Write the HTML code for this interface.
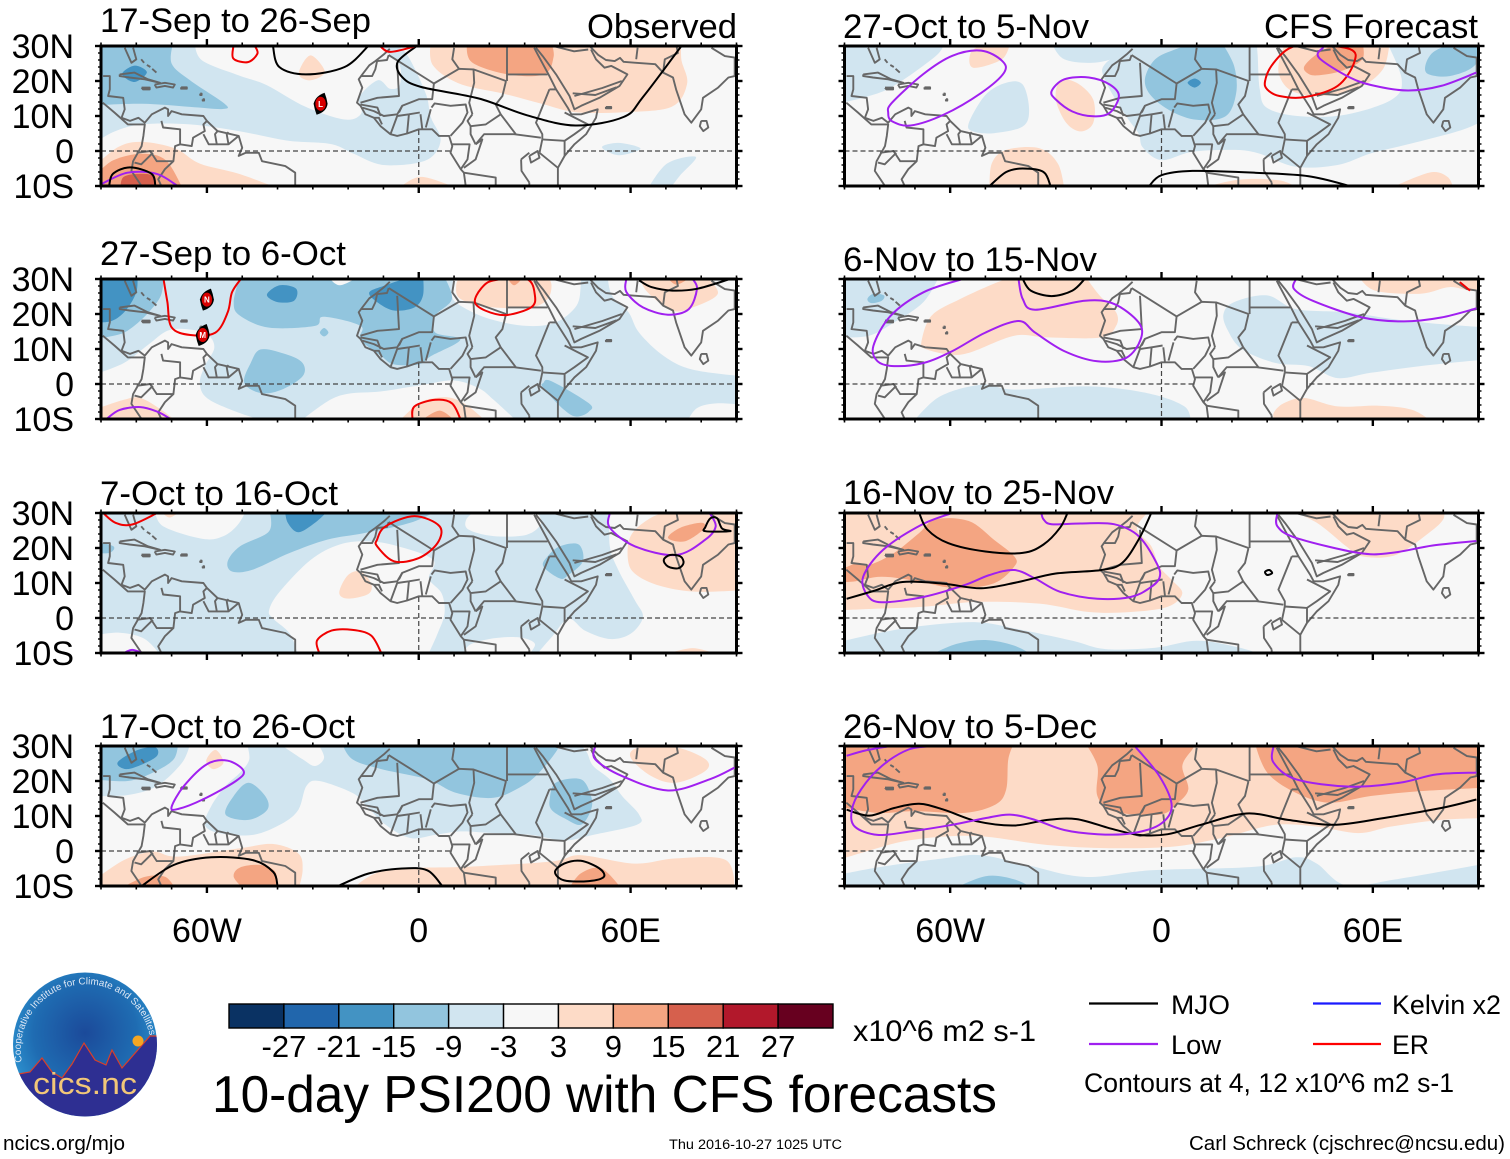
<!DOCTYPE html>
<html lang="en">
<head>
<meta charset="utf-8">
<title>10-day PSI200 with CFS forecasts</title>
<style>
html,body{margin:0;padding:0;background:#fff;}
svg{display:block;}
text{font-family:"Liberation Sans",sans-serif;fill:#000;}
</style>
</head>
<body>
<svg id="chart" xmlns="http://www.w3.org/2000/svg" width="1510" height="1159" viewBox="0 0 1510 1159">
  <rect x="0" y="0" width="1510" height="1159" fill="#fff"/>
  <defs id="chart-defs">
    <radialGradient id="logoGrad" cx="50%" cy="42%" r="60%">
      <stop offset="0" stop-color="#1b4a9a"/>
      <stop offset="0.6" stop-color="#1f6cb2"/>
      <stop offset="1" stop-color="#2f9ad6"/>
    </radialGradient>
    <path id="logoArc" d="M 22 1062 A 65 65 0 1 1 150 1037"/>
    <clipPath id="logoClip"><circle cx="85" cy="1044.5" r="72"/></clipPath>
  </defs>
  <g id="plots"></g>

  <g id="static-text">
    <text x="100" y="32" font-size="34" textLength="271" lengthAdjust="spacingAndGlyphs">17-Sep to 26-Sep</text>
    <text x="100" y="265" font-size="34" textLength="246" lengthAdjust="spacingAndGlyphs">27-Sep to 6-Oct</text>
    <text x="100" y="505" font-size="34" textLength="238" lengthAdjust="spacingAndGlyphs">7-Oct to 16-Oct</text>
    <text x="100" y="738" font-size="34" textLength="255" lengthAdjust="spacingAndGlyphs">17-Oct to 26-Oct</text>
    <text x="843" y="38" font-size="34" textLength="246" lengthAdjust="spacingAndGlyphs">27-Oct to 5-Nov</text>
    <text x="843" y="271" font-size="34" textLength="254" lengthAdjust="spacingAndGlyphs">6-Nov to 15-Nov</text>
    <text x="843" y="504" font-size="34" textLength="271" lengthAdjust="spacingAndGlyphs">16-Nov to 25-Nov</text>
    <text x="843" y="738" font-size="34" textLength="254" lengthAdjust="spacingAndGlyphs">26-Nov to 5-Dec</text>
    <text x="587" y="38" font-size="34" textLength="150" lengthAdjust="spacingAndGlyphs">Observed</text>
    <text x="1264" y="38" font-size="34" textLength="214" lengthAdjust="spacingAndGlyphs">CFS Forecast</text>
  </g>

  <g id="colorbar"></g>
  <text x="853" y="1041" font-size="30" textLength="183" lengthAdjust="spacingAndGlyphs">x10^6 m2 s-1</text>
  <text x="212" y="1112" font-size="52" textLength="785" lengthAdjust="spacingAndGlyphs">10-day PSI200 with CFS forecasts</text>

  <g>
    <line x1="1089" y1="1003.5" x2="1158" y2="1003.5" stroke="#000" stroke-width="2.2"/>
    <text x="1171" y="1014" font-size="27" textLength="59" lengthAdjust="spacingAndGlyphs">MJO</text>
    <line x1="1313" y1="1003.5" x2="1381" y2="1003.5" stroke="#1a1aff" stroke-width="2.2"/>
    <text x="1392" y="1014" font-size="27" textLength="109" lengthAdjust="spacingAndGlyphs">Kelvin x2</text>
    <line x1="1089" y1="1044" x2="1158" y2="1044" stroke="#a020f0" stroke-width="2.2"/>
    <text x="1171" y="1054" font-size="27" textLength="50" lengthAdjust="spacingAndGlyphs">Low</text>
    <line x1="1313" y1="1044" x2="1381" y2="1044" stroke="#f00" stroke-width="2.2"/>
    <text x="1392" y="1054" font-size="27" textLength="37" lengthAdjust="spacingAndGlyphs">ER</text>
    <text x="1084" y="1092" font-size="27" textLength="370" lengthAdjust="spacingAndGlyphs">Contours at 4, 12 x10^6 m2 s-1</text>
  </g>

  <text x="3" y="1150" font-size="20" textLength="122" lengthAdjust="spacingAndGlyphs">ncics.org/mjo</text>
  <text x="669" y="1149" font-size="13.5" textLength="173" lengthAdjust="spacingAndGlyphs">Thu 2016-10-27 1025 UTC</text>
  <text x="1189" y="1150" font-size="20" textLength="316" lengthAdjust="spacingAndGlyphs">Carl Schreck (cjschrec@ncsu.edu)</text>

  <g>
    <circle cx="85" cy="1044.5" r="72" fill="url(#logoGrad)"/>
    <g clip-path="url(#logoClip)">
      <polygon points="13,1075 30,1072 42,1058 52,1072 62,1078 72,1064 84,1043 95,1060 106,1065 112,1050 122,1068 150,1036 160,1036 160,1120 10,1120" fill="#2e2f92" stroke="#d8402a" stroke-width="1.2"/>
      <circle cx="138" cy="1041" r="5.5" fill="#f5a623"/>
    </g>
    <text font-size="9.8" style="fill:#dfe8f5"><textPath href="#logoArc" textLength="203" lengthAdjust="spacing">Cooperative Institute for Climate and Satellites</textPath></text>
    <text x="85" y="1094" text-anchor="middle" font-size="31" style="fill:#f2c778" textLength="104" lengthAdjust="spacingAndGlyphs">cics.nc</text>
  </g>
</svg>

<script>
/* Contour levels map to the shaded colour bins. */
const binLevels = [-30,-24,-18,-12,-6,0,6,12,18,24,30];
const binColors = ['#0a3263','#2166ac','#4393c3','#92c5de','#d1e5f0','#f7f7f7','#fddbc7','#f4a582','#d6604d','#b2182b','#67001f'];
const colorbarTicks = [-27,-21,-15,-9,-3,3,9,15,21,27];
const latTicks = [30,20,10,0,-10];
const lonTicks = [-60,0,60];

/* Shaded regions per panel: [level, [lon,lat, lon,lat, ...]], painted in order over the base level. */
const panel1Base = 0;
const panel1Fills = [
 [-6,[-63.4,31,-61.4,25.9,-51,21.6,-43,18.8,-32,12.6,-21,9,-16.3,10.7,-16.8,15.4,-11.6,20.2,-8.2,17.8,-5.4,18.8,-5.4,24.5,-9,28,-13,31,-7,31,-3,27,2,16.4,3.4,9.7,6.2,3,2,-2.7,-10,-4,-18.4,-.8,-25,2,-37.5,3,-51,5.7,-64.8,7.6,-78.4,7.6,-86.6,5.4,-92,2,-92,31]],
 [-12,[-69.5,31,-70,25,-64.8,20.2,-55,13.5,-55.5,12,-64.8,12.6,-78.4,13.5,-92,13,-92,31]],
 [-18,[-84,22,-80.5,24.4,-77,22.5,-80.5,19.7]],
 [6,[3.4,31,4,24.5,11.6,19.2,23.9,16.4,34.8,13.5,44.4,11.1,58,11.1,71.6,12.6,76,19.2,74.4,26,74.4,31]],
 [12,[13.7,31,15,25.4,25.3,21.9,35.5,21.9,38.2,26.9,37.5,31]],
 [6,[-92,-4.5,-85,1.2,-78.4,2.6,-68.9,.7,-62,-3.6,-51,-6.5,-38.9,-11,-92,-11]],
 [12,[-92,-7.4,-86.6,-2.7,-78.4,-.8,-71.6,-2.7,-66.8,-11,-92,-11]],
 [18,[-84.5,-11,-83.6,-7.4,-78.4,-6.5,-75,-7.4,-74.3,-11]],
 [6,[-34,22.1,-30.7,27.3,-26.6,22.6,-30.7,20.2]],
 [6,[-6,-11,.7,-7.4,11.6,-11]],
 [-6,[51.9,1.1,56.7,2.3,62.8,.7,56.7,-1.2]],
 [-6,[64.8,-11,70.3,-3.6,78.5,-1.7,74,-7,71,-11]]
];
const panel1Lines = [
 ['mjo',0,[-41.3,30,-39.5,24,-32,21.9,-21,24,-14.3,30]],
 ['mjo',0,[-.6,30,-6,25.4,-4.7,21.1,.7,18.3,17,15,30.7,10.2,44.4,7.3,58,9.7,63.5,15.4,74.4,30]],
 ['er',0,[-52.5,30,-52.5,26.4,-48.4,25.4,-45.7,27.8,-46.4,30]],
 ['er',0,[-11,30,-8,28.3,-.6,30]],
 ['low',0,[-90,-9.5,-82.5,-6.2,-74.3,-6.5,-68.6,-9.8]],
 ['mjo',0,[-87.7,-10,-86.6,-6.5,-81.8,-4.7,-75.7,-6.5,-74.6,-10]]
];
const panel1Storms = [[-27.8,13.5,'L']];

const panel2Base = -6;
const panel2Fills = [
 [0,[-92,2.7,-83.5,6,-76.5,11.3,-71.2,15.2,-65.9,15.7,-60,14.2,-57.9,10.4,-60.6,5.1,-62,.3,-60,-4,-51.8,-7.9,-42.4,-11,-92,-11]],
 [0,[-34,-11,-25.9,-5,-20,-2.8,-10.6,-2.1,1.2,-.2,10,1,17,-1.2,21.2,-4.5,28.2,-11]],
 [0,[53.5,31,54.7,25.3,59.4,20.5,62.4,14.7,69.4,8,77.6,4.1,92,2.2,92,31]],
 [0,[75.9,-11,78.8,-6.9,84.7,-5.5,92,-6,92,-11]],
 [0,[10,31,9.4,25.3,11.8,22.4,20,18.6,30.6,16.6,38.8,17.6,44.7,22.4,45.9,28.2,45.9,31]],
 [-12,[-92,31,-72.3,31,-73,25.3,-76.5,20.5,-80.6,16.6,-84.7,14.2,-92,12.8]],
 [-18,[-92,31,-79.7,31,-80,26.2,-83,21,-87,18,-92,17.6]],
 [-12,[-50.6,31,-52.4,23.4,-50.6,19.5,-42.4,16.1,-29.4,16.6,-27,19.2,-16.5,16.6,-16.5,12.7,-10.6,8,-7,5.6,0,5.6,3.5,8,11.8,12.7,4.7,14.7,4.7,19.5,9.4,24.3,7,31]],
 [-18,[-43,25.5,-39.4,28.2,-34.7,27.2,-35.3,23.8,-40,23.4]],
 [-18,[-14,26.2,-9.4,28.2,-4,30,1.2,31,1.2,25.3,-1.2,21.9,-7,21,-11.8,23.4]],
 [-12,[-28,14.7,-26.8,16,-25.6,14.7,-26.8,13.6]],
 [-12,[-44.7,9.9,-37.6,8.5,-32.9,6,-32.9,2.2,-38.8,-1.6,-44.7,-2.6,-49.4,.3,-47.6,6]],
 [-12,[35.3,.3,37.6,.8,48.2,-5.5,48.2,-7.9,44.7,-9.3,41.2,-7.4,35.3,-1.2]],
 [0,[-25.9,31,-22.4,28.2,-16.5,31]],
 [6,[10.6,28.2,11.8,24.3,20,22,31.8,21.9,36.5,24.3,37.6,28.2,36.5,31,11.8,31]],
 [12,[24.7,31,27,28.2,30,31]],
 [6,[62.4,31,64.7,26.3,71.8,21,77.6,21.9,84.7,25.8,81.2,31]],
 [12,[70,31,73,28.4,77.6,31]],
 [6,[-5.9,-11,0,-5.5,4.7,-4,9.4,-4,14.1,-6.4,19.4,-11]],
 [12,[0,-11,5.9,-7.6,10.6,-11]],
 [6,[-92,-7.4,-83.5,-4.5,-78.8,-4,-72.9,-7.4,-68.2,-11,-92,-11]]
];
const panel2Lines = [
 ['er',0,[-72.3,30,-71.2,23.4,-70,16.2,-64.7,14,-57.6,14.7,-54.1,20.5,-52.9,26.2,-50.4,30]],
 ['er',1,[15.9,23.4,17.6,27.2,21.2,29.6,30.6,30,32.9,25.3,31.8,21.9,24.7,19.7,18.8,21]],
 ['er',0,[-1.8,-10,-1.2,-6.4,4.7,-4.5,9.4,-5.5,11.8,-10]],
 ['low',0,[58.8,30,58.8,26.3,63.5,21.9,70.6,19.8,76.5,21.4,78.8,27.2,77.6,30]],
 ['mjo',0,[62.4,29.6,65.9,27.7,71.8,26.7,78.8,27.2,88.2,30]],
 ['low',0,[-88.2,-9.8,-84.7,-7.4,-78.8,-6.6,-74.1,-7.9,-70.6,-9.8]]
];
const panel2Storms = [[-60,24.1,'N'],[-61.2,14,'M']];

const panel3Base = -6;
const panel3Fills = [
 [0,[-42.4,2.2,-39.4,7.5,-30.6,16.6,-22.4,21,-14.1,21.9,-5.9,20.5,4.1,16.6,2.9,11.3,6.5,7,7.3,1.2,5.3,-4.5,2.4,-11,-34.1,-11,-36.5,-4.5,-41.2,-.2]],
 [0,[-74.7,31,-72.4,26.2,-61.2,22.6,-55.3,23.4,-51.2,26.7,-48.8,31]],
 [0,[13.5,28.2,14.1,25.3,21.2,23.4,30.6,23.8,34.7,27.2,32.9,31,16.5,31]],
 [0,[-92,-5,-84.7,-4.2,-77.6,-6,-72.9,-11,-92,-11]],
 [0,[54.1,31,54.1,20.5,56.5,13.8,61.2,5.1,63.5,.3,60,-4.5,54.1,-6,47.1,-3.6,42.4,-.2,37.6,-5.5,32.9,-11,92,-11,92,31]],
 [0,[14.1,-7.9,20,-6,28.2,-5.5,32.9,-7.4,30.6,-11,12.9,-11]],
 [-12,[-54.1,16.2,-50.6,20.5,-42.4,24.8,-42.4,31,5.9,31,-2.4,27.2,-15.3,24.3,-25.9,22.4,-36.5,18.6,-47.1,13.8,-52.9,13.3]],
 [-18,[-37.9,31,-37.1,27.2,-34.1,24.5,-29.4,27.2,-25.3,31]],
 [-12,[-92,21.9,-86.5,20.5,-87.6,18.6,-92,18.6]],
 [-12,[36.5,17.6,40,20.5,45.3,21,46.5,16.2,42.4,12.3,40,11.3,35.3,14.7]],
 [6,[59.4,15.7,60,23.4,65.9,28.7,72.9,31,92,31,92,8,78.8,7.5,69.4,8.9,62.4,11.8]],
 [12,[70.6,22.9,74.1,25.8,80.2,27.2,80.6,25.3,75.3,21.9]],
 [6,[-22.4,8,-20,12.3,-16.5,13.3,-13.5,9.9,-14.1,7,-18.8,5.6,-21.8,6]],
 [6,[-73.5,31,-70.6,28.7,-67,31]],
 [6,[68.2,-11,77.6,-8.6,85.9,-11]]
];
const panel3Lines = [
 ['er',0,[-89.4,30,-85.9,27.2,-81.2,26.7,-74.1,30]],
 ['er',1,[-11.8,22.4,-9.4,26.2,-1.2,29.1,5.9,26.2,5.3,21.4,0,17.1,-7,16.2,-11.8,20.5]],
 ['er',0,[-28.2,-10,-28.8,-6.4,-24.7,-3.6,-18.8,-3.4,-13.5,-5,-10.6,-10]],
 ['low',0,[54.1,30,54.1,25.8,61.2,20.5,72.9,18,81.2,22.4,84.1,26.2,82.4,30]],
 ['mjo',1,[69.4,16.6,71.2,18,74.1,17.6,75,15.7,73.5,14.2,70.6,14.7]],
 ['mjo',1,[81.2,26,82.6,28.5,84.5,28.5,85.9,25.6,88.2,24.8,81.2,24.8]],
 ['low',0,[-83.5,-10,-81.2,-9.1,-78.2,-10]]
];
const panel3Storms = [];

const panel4Base = 0;
const panel4Fills = [
 [-6,[-92,15.7,-82.4,16,-74.1,18.6,-67,25.3,-64.7,31,-92,31]],
 [-6,[-48.8,31,-48,26.2,-50.6,22.4,-54.7,18.6,-58.8,12.8,-60.6,7.5,-56.5,5.1,-47,4.6,-38.8,7.8,-34.1,11.8,-31.8,18.6,-28.2,20,-18.8,16.6,-14.7,12.8,-9.4,7.5,-2.4,3.7,4.7,4.6,11.8,5.6,21.2,5.1,31.8,4.6,41.2,3,49.4,4.6,61.8,7.5,62.4,10.4,57.6,15.7,54.1,20.5,49.4,24.3,47.6,28.2,45.3,31]],
 [0,[-40,31,-32.9,26.2,-29.4,24.3,-26.8,26.7,-28.8,31]],
 [-12,[-21.8,31,-18.8,26.2,-10.6,23.4,2.4,20.5,10.6,16.6,21.2,15.2,29.4,18.6,34.1,22.4,38.8,28.2,40,31]],
 [-12,[-92,31,-68.2,31,-69.4,26.2,-75.3,22.4,-82.4,20,-92,20.5]],
 [-18,[-85.3,25.3,-80,28.7,-74.7,29.6,-74.1,27.2,-78.2,24.8,-82.9,23.4]],
 [-12,[-54.7,10.4,-52.4,15.7,-48.2,19.5,-43.5,15.7,-42.9,11.8,-48.2,8.9]],
 [-12,[37.1,14.7,38.8,19.5,45.9,20.5,48.8,15.7,48.8,11.8,45.9,7.5,41.2,9.4,37.6,11.8]],
 [6,[-60.2,25.8,-57.6,28.9,-55.3,25.3,-58.2,23.4]],
 [6,[60,26.7,62.4,29.6,72.9,29.6,81.2,26.2,81.2,22.9,72.9,19.5,65.9,21.4]],
 [6,[-92,-8.4,-83.5,-2.6,-75.3,-.2,-68.2,-1.6,-50.6,.8,-41.2,2,-34.1,-.7,-32.9,-5.5,-34.1,-11,-92,-11]],
 [6,[-18.8,-11,-9.4,-5.5,14.1,-4.5,37.6,-3,45.9,-1.2,61.2,-3.6,72.9,-2.1,87,-2.6,89.4,-11]],
 [12,[-52.4,-7.4,-50.6,-4.7,-44.7,-4,-40.6,-6,-40,-11,-49.4,-11]],
 [12,[-85,-11,-77.6,-7.4,-71.8,-7.4,-68.8,-11]],
 [12,[42.4,-11,45.9,-6.4,51.8,-5,57.6,-11]]
];
const panel4Lines = [
 ['low',1,[-70,12.6,-66.5,18.6,-60,24.8,-54.1,25.8,-49.6,22.9,-51.8,20,-61.2,14.7,-68.2,12]],
 ['low',0,[50,30,50,26.2,57.6,21.4,70.6,17.3,82.4,20.5,89.4,23.8]],
 ['mjo',0,[-78.2,-9.8,-69.4,-4,-58.8,-1.8,-47,-2.6,-41.2,-6,-40,-10]],
 ['mjo',0,[-22.4,-9.8,-14.1,-6.4,-4.7,-5,2.4,-5.5,6.5,-9.8]],
 ['mjo',1,[38.6,-6,41.2,-3.6,45.9,-2.8,51.2,-5,52.4,-7.4,48.2,-8.6,41.2,-8.4]]
];
const panel4Storms = [];

const panel5Base = 0;
const panel5Fills = [
 [-6,[-92,31,-61.8,31,-64,27.2,-76,18.6,-84,15.4,-92,13.6]],
 [-6,[-54.7,8,-50,16,-44.1,19.5,-39.4,19,-37.6,11.8,-39.4,7,-47.6,5.1,-53.5,5.6]],
 [-6,[-31.2,31,-27.6,26.2,-18.2,25.3,-8.8,28.2,-6.5,31]],
 [-6,[-6.5,31,-15.9,25,-15.9,20,-10,9.9,-6.5,5,-5.3,1,0,-2.6,8.8,-.2,20.6,.3,27.6,-.7,38.2,-4.5,50,-4,59.4,-.7,71.2,2.2,85.3,6,92,9,92,31]],
 [0,[27,31,27.3,27.3,27.9,17.6,30,12.3,39.4,9.9,52.4,10.4,65.4,14.7,68.2,20.5,64,31]],
 [6,[33.5,26.2,35.3,31,64.7,31,62.9,23.4,55.9,18,45.3,15.7,37.1,17.1,33.5,21.4]],
 [12,[40.6,24.3,44.1,27.7,50,31,57,31,57,26.2,51.2,22.9,44.1,21.6,41.2,22.4]],
 [-12,[-4.7,20.5,-1.8,26.2,4.1,29.1,10,31,17.1,31,20.6,24.3,21.2,16.6,18.2,9.9,10,8.9,2.9,11.3,-2.9,15.7]],
 [-18,[7.4,19.5,9.4,20.7,11.2,19.5,9.4,18.1]],
 [-12,[74.9,24.3,77.1,28.2,82.9,31,92,31,88.8,24.3,81.8,21.4,75.9,21.9]],
 [6,[-54.1,28.2,-50,31,-43,31,-45.3,26.2,-53.5,23.8]],
 [6,[-28.8,20,-24.1,19.5,-19.4,14.7,-19.4,8,-22.9,5.6,-27,8,-30,14.7]],
 [6,[-48.8,-11,-48.2,-3.6,-44.1,.3,-34.7,.8,-29.4,-3.6,-27.6,-11]],
 [6,[10,-11,21.8,-8.2,33.5,-8.4,39.4,-11]],
 [6,[64.1,-11,75.9,-6.2,81.2,-7.4,82.9,-11]]
];
const panel5Lines = [
 ['low',1,[-77.6,10.9,-76.5,13.8,-67.6,22,-59.4,27.2,-51.2,28.7,-45.3,25.8,-44.7,22.4,-51.2,16.6,-61.8,10.4,-71.2,7.3,-76.5,8.5]],
 ['low',1,[-31.2,17.1,-27.6,20.5,-20.6,21,-14.7,19,-12.1,15.7,-14.7,10.9,-19.4,9.9,-25.3,11.3,-30,14.7]],
 ['er',1,[29.4,20,31.2,24.3,35.9,29.1,41.8,30.5,53.5,29.1,54.7,25.3,50,18.6,40.6,15.4,33.5,15.7,30,17.6]],
 ['low',0,[45.9,29.6,44.7,26.7,53.5,21,60.6,18.6,70,17.3,79.4,18.6,89.4,22.4]],
 ['mjo',0,[-48.8,-10,-44.1,-6,-39.4,-5,-33.5,-6,-31.5,-10]],
 ['mjo',0,[-3.5,-10,0,-6.9,8.8,-5.7,26.5,-6.2,41.8,-7.2,53.5,-10]]
];
const panel5Storms = [];

const panel6Base = 0;
const panel6Fills = [
 [-6,[-92,31,-63,31,-67.6,23.4,-75.9,17.6,-83,13.8,-92,13.3]],
 [-12,[-83.5,24.3,-81.8,25.8,-78.8,25.3,-79.4,23.8,-82.4,23.1]],
 [-6,[-70.6,-11,-63,-3.6,-51.2,-.2,-41.8,-1.6,-20.6,-.7,-4.1,-2.6,6.5,-6.4,8.2,-11]],
 [-6,[17.6,20,20.6,23.4,30,25.3,38.2,21.4,52.4,20.5,65.3,18.6,79.4,17.1,92,16.2,92,7,73.5,5.1,59.4,3.2,50,1.7,41.8,5.1,32.4,6,22.9,9.9,18.8,15.4]],
 [6,[-68.2,11.8,-65.3,19.5,-57.1,24.3,-46.5,29.1,-40.6,31,-21.8,31,-17.6,25.3,-12.9,20.5,-12.9,16.6,-17.1,13.3,-32.4,13.3,-41.8,13.8,-54.7,8.9,-60.6,8.5,-67,10]],
 [6,[55.9,31,60.6,26.7,73.5,25.8,81.8,27.7,88.8,26.7,92,31]],
 [6,[31.8,-8.4,34.7,-5.5,40.6,-4,50,-6.4,61.8,-6.2,71.2,-7.4,77,-11,32.4,-11]]
];
const panel6Lines = [
 ['low',0,[-56.5,30,-67.6,26.2,-76.9,19.5,-81.8,10.9,-80.6,6.5,-75.9,5.1,-67.6,6,-59.4,9.4,-50,14.7,-40.6,18,-35.9,14.7,-27.6,9.4,-18.2,6.5,-10,7.5,-5.9,12.8,-6.5,17.6,-13.5,22.9,-21.8,23.8,-35.9,21.2,-39.4,24.3,-40.6,30]],
 ['mjo',0,[-39.4,30,-37.1,26.7,-31.2,25.1,-25.3,26.7,-21.8,30]],
 ['low',0,[38.2,30,37.6,27.2,42.9,23.8,57,19,68.8,17.9,79.4,19,89.4,21.6]],
 ['er',0,[84.7,29.1,87.6,26.7]]
];
const panel6Storms = [];

const panel7Base = 0;
const panel7Fills = [
 [6,[-92,31,-2.9,31,-7,25.7,-2.9,20.5,-.6,14.7,2.9,10.9,5.9,7,1.8,3.2,-8.8,1.7,-20.6,1.7,-34.7,4.1,-52.4,4.6,-67.6,3.2,-79.4,2.7,-92,2.2]],
 [6,[35.9,31,44.1,27.2,52.4,20.5,57,17.6,66.5,18,75.9,24.3,80,28.2,80,31]],
 [12,[-92,13.3,-86.5,15.7,-82.9,15.2,-75.9,18.6,-68.8,24.3,-64.1,28.2,-54.7,27.7,-47.6,22.4,-41.8,17.6,-41.8,14.7,-47.6,9.9,-58.2,8.5,-68.8,10.4,-79.4,11.8,-87.6,10.4,-92,10.4]],
 [-6,[-92,-7,-79.4,-4.1,-67.6,-2.2,-52.4,-1.2,-40.6,-3.2,-25.3,-6.5,-15.9,-8.9,-1.8,-8.5,10,-6.5,21.8,-8.4,30,-11,-92,-11]],
 [-12,[-66.5,-11,-58.2,-7.4,-50,-6.3,-41.8,-7.9,-35.9,-11]]
];
const panel7Lines = [
 ['low',0,[-59.4,30,-68.2,26.6,-79,19.5,-84.7,11.8,-83.5,6.5,-79.4,4.5,-67.6,6,-55.9,9.4,-48.8,12.3,-41.8,13.7,-35.9,11.3,-28.8,7.5,-18.2,5.5,-8.8,6,-3.5,8.5,-.6,11.4,-1.2,15.3,-6.5,23.4,-13.5,26.8,-23,27,-31.2,26.8,-33.5,28.2,-34.1,30]],
 ['mjo',0,[-89.4,5.5,-81.8,7.7,-73.5,10.3,-61.8,9.8,-51.2,8.5,-40.6,10.3,-30,12.7,-17,13.7,-11.2,15.7,-6.5,22.4,-2.9,30]],
 ['mjo',0,[-68.8,30,-66.5,25.3,-60.6,21.4,-50,19,-39.4,18.6,-33.5,21,-28.8,25.8,-26.7,30]],
 ['low',0,[32.9,30,32.9,26.2,38.2,22.9,55.9,18.6,65.3,18.6,77,20.7,89.4,22]],
 ['mjo',1,[29.4,13.2,30.6,13.7,31.4,12.8,30,12.3]]
];
const panel7Storms = [];

const panel8Base = 0;
const panel8Fills = [
 [6,[-92,-2.6,-84.1,-.2,-73.5,2.7,-61.8,4.1,-50,4.1,-32.4,1.7,-14.7,.8,2.9,1.2,14.7,3.2,20.6,4.6,32.4,7.5,44.1,7,55.9,5.1,65.3,7,79.4,8.9,92,9.4,92,31,-92,31]],
 [12,[-92,31,-41.8,31,-43.5,26.2,-44.1,17.6,-47.1,13.3,-55.9,10.9,-70,11.4,-80.6,10.9,-92,12.8]],
 [12,[-21.8,31,-18.2,24.3,-18.2,15.7,-13.5,11.3,-.6,10.4,4.1,13.3,7.6,17.6,5.9,24.3,8.8,29.1,10,31]],
 [12,[26.5,31,30,22.4,38.2,16.6,47.6,13.8,59.4,15.7,73.5,17.1,92,18.1,92,31]],
 [-6,[-92,-6.9,-79.4,-4.5,-61.8,-2.1,-51.2,-1.2,-38.2,-4,-21.8,-7.4,-2.9,-5.5,26.5,-4.5,38.2,-1.8,44.1,-3.6,52.4,-9.8,66.5,-8.1,92,-3.6,92,-11,-92,-11]],
 [-12,[-59.4,-11,-50,-7.2,-41.8,-8.1,-35.9,-11]]
];
const panel8Lines = [
 ['mjo',0,[-89.4,11.8,-82.9,10.1,-75.9,12.3,-68.8,13.5,-61.8,11.8,-52.4,8.5,-41.8,7.3,-32.4,8.9,-24.1,9.1,-14.7,6.5,-6.5,4.6,1.8,4.8,11.2,7.5,24.1,10.7,35.9,8.9,48.8,7.5,63,9.4,79.4,12.3,89.4,14.7]],
 ['low',0,[-64.7,30,-71.8,29,-79.4,24.3,-85.3,17.6,-87.9,11.8,-87.1,7,-80.6,4.6,-71.2,5.6,-59.4,7.5,-50,9.4,-43,10.4,-35.9,8.9,-27.6,6,-18.2,4.8,-8.8,5,-.6,7.5,2.9,12.8,-.6,21.4,-7.6,30]],
 ['low',0,[-89.4,27.2,-84.1,28.7,-77,30]],
 ['low',0,[31.8,30,31.8,25.3,38.2,20.5,53.5,18.4,67.6,19.5,78.2,21.9,89.4,22.4]]
];
const panel8Storms = [];

/* Coastlines as lon,lat polylines. */
const coastlines = [
 [-8.2,29.2,-9.9,27.6,-12.3,25.7,-14,24.5,-16,21.9,-17,20.5,-16,18.1,-17.5,13.8,-16.5,12.9,-15.1,10.5,-12.7,9.5,-10.8,7.1,-8,4.8,-6.1,4.3,-3.3,5,0,6.2,3.8,6.2,5.7,4.3,8.6,4.3,9.5,1.4,9,-.5,11.9,-5.2,12.8,-6.2,13.3,-10],
 [32.7,29.5,33.7,27.6,37,21.4,38.9,17.6,42.2,12.4,43.2,10.5,46,10.5,50.7,11.9,50.2,9.5,47.4,4.8,44.1,1.9,41.3,-1.4,39.4,-4.8,39.4,-10],
 [33.2,29.5,35.1,27.1,38.9,21.9,42.7,15.7,44.1,11.9,46,12.9,51.2,15.2,56.9,18.6,59.1,21.9,56.4,23.3,54.5,24.3,52.6,23.8,50.2,26.2,48.8,29],
 [48.4,30,50.8,27.5,53,26,55.5,25.7,57,26.6,58,25.5,61.6,25.2,67,24.8,69.2,22.4,72,21,72.9,17.6,75.3,10.5,77.2,8.1,80,11.9,80.5,15.2,84.8,18.1,87.7,21,89.5,21.4,90,22],
 [80,8.6,81.5,8.6,82,6.7,80.6,5.7,79.6,7.1,80,8.6],
 [53,12.6,54.5,12.6,54.5,12.2,53,12.2,53,12.6],
 [-83.3,29.5,-81.4,25.2,-80,26.2,-80.9,29.5],
 [-84.7,21.9,-80.5,22.4,-76.7,20.5,-73.3,19.5,-77.6,20.5,-81.9,21,-84.7,21.4,-84.7,21.9],
 [-74.8,19,-71.9,19.5,-69.1,19,-69.6,18.1,-71.9,18.6,-74.3,18.1,-74.8,19],
 [-78.5,18.1,-76.2,18.1,-76.2,17.6,-78.1,17.6,-78.5,18.1],
 [-67.3,18.2,-65.7,18.2,-65.7,17.8,-67.3,17.8,-67.3,18.2],
 [-61.9,16.4,-61.5,16.4,-61.5,16,-61.9,16,-61.9,16.4],
 [-61.2,14.8,-60.8,14.8,-60.8,14.4,-61.2,14.4,-61.2,14.8],
 [-78.6,26.2,-77.8,25.2],[-77,24.6,-76,24],[-75.5,23.5,-74.3,22.4],
 [-89.4,21.4,-87.5,21.4,-87.5,17.6,-88,15.7,-83.7,15.2,-83.3,11.9,-84.2,9.5,-81.8,8.6,-79.4,9.5,-77.6,8.1,-75.6,10.5,-71.9,12.4,-71,11.9,-71,10,-70,11.4,-67.1,10.5,-61,10,-60,8.6,-57,5.7,-51,4.3,-50,.9,-51,-1.4,-49,-.5,-45.3,-.5,-44.4,-2.9,-37.8,-4.3,-35,-6.2,-35,-10],
 [-89.5,13.8,-86.2,11,-82.4,7.6,-81,7.6,-77.6,7.6,-78,4.3,-78.5,1.4,-80.9,-2.9,-81.4,-5.7,-78.5,-10]
];
/* Country borders as lon,lat polylines. */
const borders = [
 [-8.5,27.4,-9,26,-11.8,25.7,-12.3,23.3,-13.2,21.4,-16.5,21.4],
 [-8.5,27.4,4.3,19.3,11.4,23.5,15.5,23.3,24.7,20],[10,29.5,9.5,26.2,11.4,23.5],
 [-6.1,25.2,-5.6,15.7,-11.7,15.2,-16.5,13.8],[4.3,19.3,3.8,14.8,0,14.8,-4.7,12.9,-5.6,11],
 [15.5,23.3,15.7,19.5,14.3,13.8,15.2,10.5],[3.6,12.4,4.5,13.6,9,12.9,13.3,13.3,13.8,11,12.4,8.1,9,4.3],
 [3.4,11.9,2,6.7],[.5,10.5,1,6.2],[-2.8,10.5,.3,11],[-2.8,10.5,-3.3,5],[-2.8,10.5,-6.1,10,-8,4.8],
 [-16,12.4,-12.7,11.4,-9.9,10,-6.1,10.5,-4.7,12.9],[-12.7,9.5,-11.3,9.5,-10.4,7.6],[-16.5,13.3,-11.7,12.4,-10.8,10],
 [24.7,20,23.7,15.7,21.8,13.3,23.2,10.5,19,7.6,14.7,7.1,14.7,4.8,16.1,1.9],[15.2,10.5,13.8,8.6,14.7,7.1],
 [16.1,1.9,18.5,4.8,27,4.8,34.6,3.8],[23.2,10.5,27.5,4.8],
 [25,21.9,36.5,21.9],[25,30,25,20],
 [37,17.6,33.2,8.1,35,4.8,35,3.3],[37,17.6,38.9,17.6],[41.3,11,47.9,7.6,44.1,4.8,41.3,2.9,35,3.3],[41.3,2.9,41.3,-1.4],
 [34.2,-.5,39.4,-4.8],[35,3.3,34.2,-.5],
 [31.3,-1.4,33.7,0,34.2,-1.9,31.8,-3.3,31.3,-1.4],[29,-2.4,29.1,-5.7,31.3,-9],[29,-2.4,31.3,-.5],[31.3,-9,31.3,-10],
 [9.5,1.9,14.4,1.9,13.8,-2.4,11.9,-5.2],[16.1,1.9,18,3.3,16.1,-2.4,12.8,-4.8],[12.8,-6.2,21.8,-7.6,21.8,-10],
 [44.1,15.7,52,18,57.5,20],[43.6,16.5,50,16,56,18.2],[38,30,44,28.5,48,29],
 [61.6,26.2,62,29.5],[69.2,22.4,69.7,26.2,73.4,28,73,30],[82.9,29.5,86.7,27.1,89.5,26.7,89.5,21.4],
 [-72.9,8.6,-72.4,6.7,-67.6,6.2,-67.6,1.9,-69,1.4,-69.5,-2.9,-71.9,-5.2,-73.8,-8.1,-72.9,-10],
 [-67.6,1.9,-64.3,1.4,-63.9,3.8,-60.6,5.7,-61,7.6,-60,8.6],
 [-61,4.8,-59.5,1.9,-57.2,1.9,-57.7,4.8,-57,5.7],[-57.2,1.9,-53.9,1.9,-54.4,4.8,-53.9,5.4],[-53.9,1.9,-51,4.3],
 [-79.9,-.5,-76.1,0,-74.2,-2.9,-69.5,-2.9],[-80.5,-3.3,-78.6,-3.8,-75.3,-.5]
];

const panels = [
 {col:0,top:46,base:panel1Base,fills:panel1Fills,lines:panel1Lines,storms:panel1Storms,lats:true,lons:false},
 {col:0,top:279,base:panel2Base,fills:panel2Fills,lines:panel2Lines,storms:panel2Storms,lats:true,lons:false},
 {col:0,top:513,base:panel3Base,fills:panel3Fills,lines:panel3Lines,storms:panel3Storms,lats:true,lons:false},
 {col:0,top:746,base:panel4Base,fills:panel4Fills,lines:panel4Lines,storms:panel4Storms,lats:true,lons:true},
 {col:1,top:46,base:panel5Base,fills:panel5Fills,lines:panel5Lines,storms:panel5Storms,lats:false,lons:false},
 {col:1,top:279,base:panel6Base,fills:panel6Fills,lines:panel6Lines,storms:panel6Storms,lats:false,lons:false},
 {col:1,top:513,base:panel7Base,fills:panel7Fills,lines:panel7Lines,storms:panel7Storms,lats:false,lons:false},
 {col:1,top:746,base:panel8Base,fills:panel8Fills,lines:panel8Lines,storms:panel8Storms,lats:false,lons:true}
];

const NS = 'http://www.w3.org/2000/svg';
const lineColors = {mjo:'#000000',low:'#a020f0',er:'#f00000',kelvin:'#1a1aff'};

function mk(tag, parent, attrs) {
  const el = document.createElementNS(NS, tag);
  for (const k in attrs) el.setAttribute(k, attrs[k]);
  parent.appendChild(el);
  return el;
}
function levelColor(v) { return binColors[binLevels.indexOf(v)]; }
/* Points beyond the frame are flagged so curves keep sharp corners there. */
function pairs(flat, xf, yf) {
  const out = [];
  for (let i = 0; i < flat.length; i += 2) {
    const off = flat[i + 1] > 30.5 || flat[i + 1] < -10.5 || Math.abs(flat[i]) > 91;
    out.push([xf(flat[i]), yf(flat[i + 1]), off]);
  }
  return out;
}
function smooth(p, closed) {
  const n = p.length;
  const at = i => closed ? p[(i + n) % n] : p[Math.max(0, Math.min(n - 1, i))];
  let d = 'M' + p[0][0].toFixed(1) + ' ' + p[0][1].toFixed(1);
  const last = closed ? n : n - 1;
  for (let i = 0; i < last; i++) {
    const a = at(i - 1), b = at(i), c = at(i + 1), e = at(i + 2);
    let c1x = b[0] + (c[0] - a[0]) / 6, c1y = b[1] + (c[1] - a[1]) / 6;
    let c2x = c[0] - (e[0] - b[0]) / 6, c2y = c[1] - (e[1] - b[1]) / 6;
    if (b[2]) { c1x = b[0]; c1y = b[1]; }
    if (c[2]) { c2x = c[0]; c2y = c[1]; }
    d += 'C' + c1x.toFixed(1) + ' ' + c1y.toFixed(1) + ' ' + c2x.toFixed(1) + ' ' + c2y.toFixed(1) + ' ' + c[0].toFixed(1) + ' ' + c[1].toFixed(1);
  }
  return d + (closed ? 'Z' : '');
}
function polyline(p) {
  return 'M' + p.map(q => q[0].toFixed(1) + ' ' + q[1].toFixed(1)).join('L');
}

const root = document.getElementById('plots');
const defs = document.getElementById('chart-defs');

panels.forEach((pn, idx) => {
  const x0 = pn.col === 0 ? 101 : 844.5;
  const w = pn.col === 0 ? 635.5 : 634;
  const h = 140;
  const xs = lon => x0 + (lon + 90) * w / 180;
  const ys = lat => pn.top + (30 - lat) * h / 40;

  const clip = mk('clipPath', defs, {id: 'clip' + idx});
  mk('rect', clip, {x: x0, y: pn.top, width: w, height: h});

  const g = mk('g', root, {});
  
  
  const inner = mk('g', g, {'clip-path': 'url(#clip' + idx + ')'});

  const bg = mk('rect', inner, {x: x0, y: pn.top, width: w, height: h, fill: levelColor(pn.base)});
  
  

  pn.fills.forEach(f => {
    const el = mk('path', inner, {d: smooth(pairs(f[1], xs, ys), true), fill: levelColor(f[0])});
    
    
  });

  const map = mk('g', inner, {fill: 'none', stroke: '#666', 'stroke-width': 1.9, 'stroke-linejoin': 'round'});
  
  
  coastlines.concat(borders).forEach(c => {
    const el = mk('path', map, {d: polyline(pairs(c, xs, ys))});
    
    
  });

  const eq = mk('path', inner, {
    d: 'M' + xs(-90) + ' ' + ys(0) + 'H' + xs(9.5) + 'M' + xs(42) + ' ' + ys(0) + 'H' + xs(90) + 'M' + xs(0) + ' ' + ys(6) + 'V' + ys(-10),
    fill: 'none', stroke: '#444', 'stroke-width': 1.2, 'stroke-dasharray': '5 3'
  });
  
  

  pn.lines.forEach(l => {
    const el = mk('path', inner, {d: smooth(pairs(l[2], xs, ys), !!l[1]), fill: 'none', stroke: lineColors[l[0]], 'stroke-width': 2});
    
    
  });

  pn.storms.forEach(s => {
    const sx = xs(s[0]), sy = ys(s[1]);
    const sg = mk('g', inner, {});
    
    
    mk('path', sg, {d: 'M' + (sx + 4) + ' ' + (sy - 11) + 'Q' + (sx - 5) + ' ' + (sy - 8) + ' ' + (sx - 7) + ' ' + sy + 'Q' + (sx - 6) + ' ' + (sy + 6) + ' ' + (sx - 4) + ' ' + (sy + 11) + 'Q' + (sx + 6) + ' ' + (sy + 8) + ' ' + (sx + 7) + ' ' + sy + 'Q' + (sx + 6) + ' ' + (sy - 6) + ' ' + (sx + 4) + ' ' + (sy - 11) + 'Z', fill: '#000'});
    mk('ellipse', sg, {cx: sx, cy: sy, rx: 5.2, ry: 7, fill: '#d80000'});
    const t = mk('text', sg, {x: sx, y: sy + 3, 'text-anchor': 'middle', 'font-size': 8, 'font-weight': 'bold', style: 'fill:#fff'});
    t.textContent = s[2];
  });

  const frame = mk('rect', g, {x: x0, y: pn.top, width: w, height: h, fill: 'none', stroke: '#000', 'stroke-width': 3});
  
  

  const ticks = mk('g', g, {stroke: '#000', 'stroke-width': 1.6});
  
  
  for (let lon = -90; lon <= 90; lon += 10) {
    const major = lonTicks.indexOf(lon) >= 0;
    mk('line', ticks, {x1: xs(lon), x2: xs(lon), y1: ys(-10), y2: ys(-10) + (major ? 7 : 3.5), 'stroke-width': major ? 2.4 : 1.6});
    mk('line', ticks, {x1: xs(lon), x2: xs(lon), y1: ys(30), y2: ys(30) - (major ? 7 : 3.5), 'stroke-width': major ? 2.4 : 1.6});
  }
  for (let lat = -10; lat <= 30; lat += 2) {
    const major = lat % 10 === 0;
    mk('line', ticks, {x1: xs(-90), x2: xs(-90) - (major ? 6 : 3), y1: ys(lat), y2: ys(lat), 'stroke-width': major ? 2.4 : 1.4});
    mk('line', ticks, {x1: xs(90), x2: xs(90) + (major ? 6 : 3), y1: ys(lat), y2: ys(lat), 'stroke-width': major ? 2.4 : 1.4});
  }

  if (pn.lats) {
    latTicks.forEach(lat => {
      const label = lat === 0 ? '0' : Math.abs(lat) + (lat > 0 ? 'N' : 'S');
      const t = mk('text', g, {x: 74, y: ys(lat) + 12, 'text-anchor': 'end', 'font-size': 34});
      
      
      t.textContent = label;
    });
  }
  if (pn.lons) {
    lonTicks.forEach(lon => {
      const label = lon === 0 ? '0' : Math.abs(lon) + (lon < 0 ? 'W' : 'E');
      const t = mk('text', g, {x: xs(lon), y: 942, 'text-anchor': 'middle', 'font-size': 34});
      
      
      t.textContent = label;
    });
  }
});

/* Colorbar */
const cb = document.getElementById('colorbar');
const cbX = i => 229 + i * 604 / binColors.length;
binColors.forEach((c, i) => {
  const el = mk('rect', cb, {x: cbX(i), y: 1004, width: 604 / binColors.length, height: 24, fill: c, stroke: '#000', 'stroke-width': 1.4});
  
  
});
colorbarTicks.forEach((v, i) => {
  const t = mk('text', cb, {x: cbX(i + 1), y: 1057, 'text-anchor': 'middle', 'font-size': 31});
  
  
  t.textContent = v;
});
</script>
</body>
</html>
